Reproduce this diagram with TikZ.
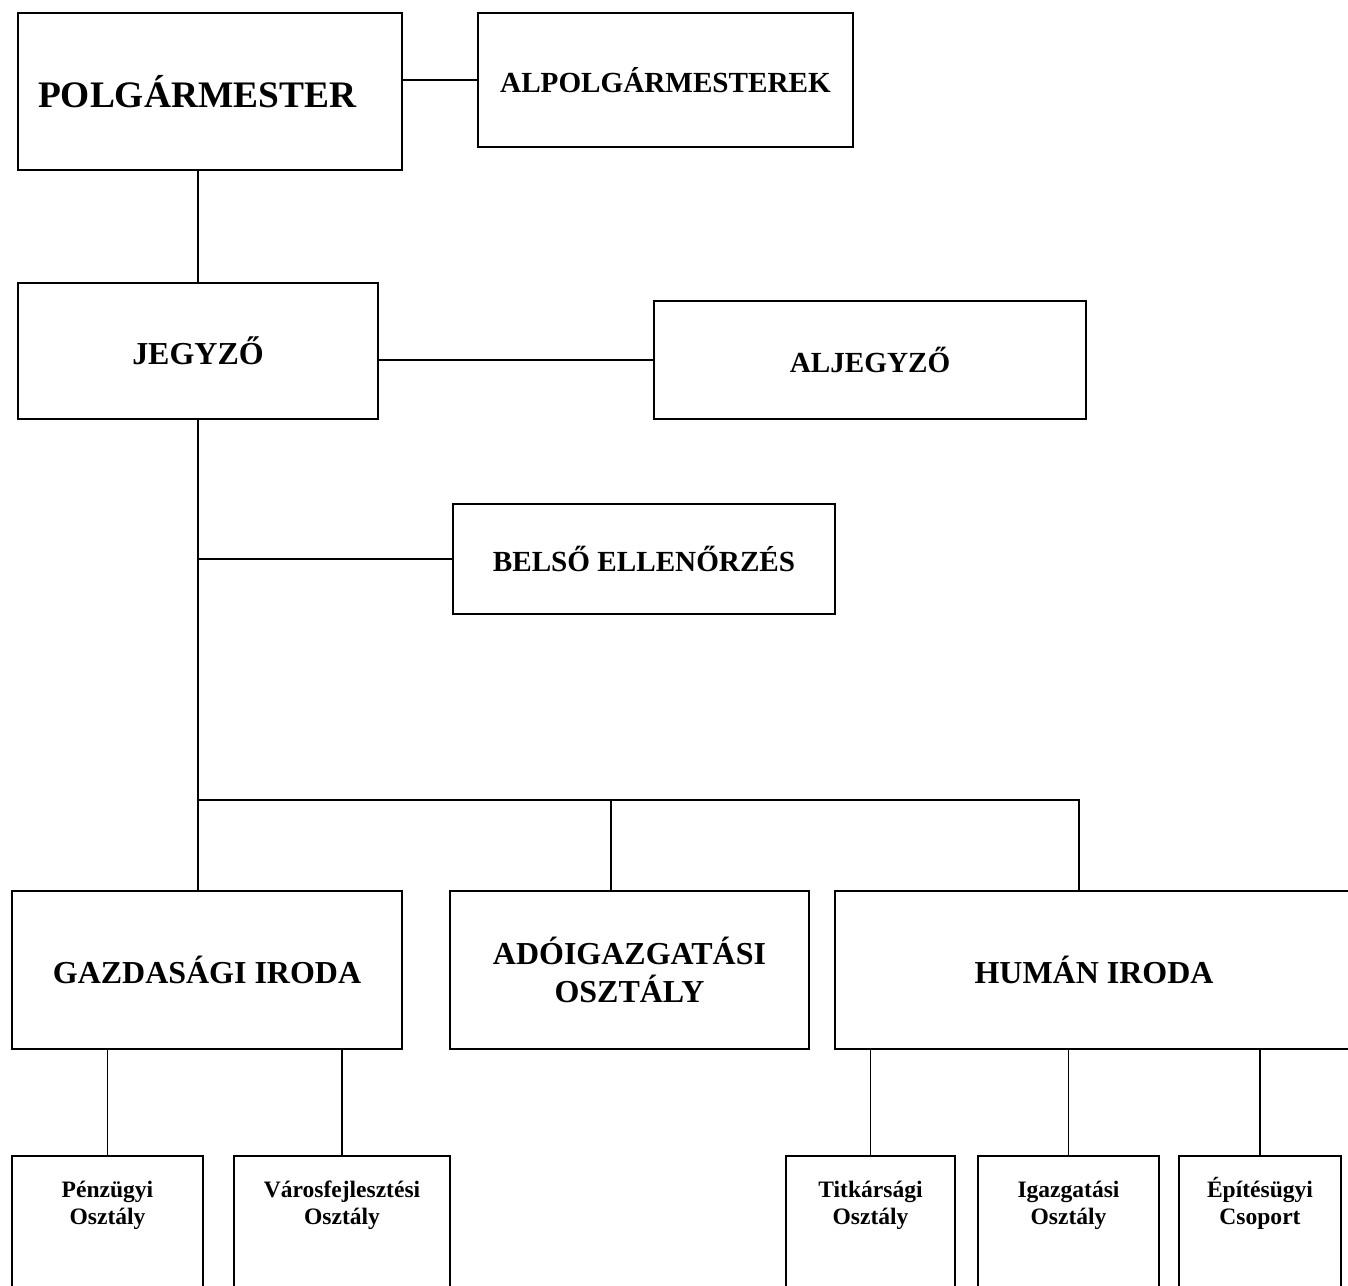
\documentclass[tikz,border=0pt]{standalone}
\usepackage{fontspec}
\setmainfont{Liberation Serif}
\usepackage{tikz}
\tikzstyle{office} = [rectangle, draw=black, line width=1.1pt, align=center, inner sep=0pt, font=\bfseries\fontsize{18.2}{21.5}\selectfont]
\tikzstyle{lesser} = [font=\bfseries\fontsize{16.6}{20}\selectfont]
\tikzstyle{unit} = [rectangle, draw=black, line width=1.1pt, align=center, inner sep=0pt, anchor=north, text height=1.38cm, text depth=1.5cm, font=\bfseries\fontsize{13.4}{15.5}\selectfont]
\tikzstyle{conn} = [line width=1.1pt]

\begin{document}
\begin{tikzpicture}[x=0.02cm, y=-0.02cm]
    \clip (0,0) rectangle (1348,1285);
    \node (polg) [office, font=\bfseries\fontsize{21.3}{25}\selectfont, minimum width=7.68cm, minimum height=3.14cm, text width=6.88cm, align=left] at (210,91.5) {POLGÁRMESTER};
    \node (alpolg) [office, lesser, minimum width=7.5cm, minimum height=2.68cm] at (665.5,80) {ALPOLGÁRMESTEREK};
    \node (jegyzo) [office, minimum width=7.2cm, minimum height=2.72cm] at (198,351) {JEGYZŐ};
    \node (aljegyzo) [office, lesser, minimum width=8.64cm, minimum height=2.36cm] at (870,360) {ALJEGYZŐ};
    \node (belso) [office, lesser, minimum width=7.64cm, minimum height=2.2cm] at (644,559) {BELSŐ ELLENŐRZÉS};
    \node (gazd) [office, minimum width=7.8cm, minimum height=3.16cm] at (207,970) {GAZDASÁGI IRODA};
    \node (ado) [office, minimum width=7.18cm, minimum height=3.16cm] at (629.5,970) {ADÓIGAZGATÁSI\\OSZTÁLY};
    \node (human) [office, minimum width=10.36cm, minimum height=3.16cm] at (1094,970) {HUMÁN IRODA};

    \node (penz) [unit, minimum width=3.82cm] at (107.5,1155) {Pénzügyi\\Osztály};
    \node (varos) [unit, minimum width=4.32cm] at (342,1155) {Városfejlesztési\\Osztály};
    \node (titk) [unit, minimum width=3.38cm] at (870.5,1155) {Titkársági\\Osztály};
    \node (igazg) [unit, minimum width=3.62cm] at (1068.5,1155) {Igazgatási\\Osztály};
    \node (epit) [unit, minimum width=3.24cm] at (1260,1155) {Építésügyi\\Csoport};

    \coordinate (busm) at (611,800);
    \coordinate (busr) at (1079,800);

    \draw [conn] (polg.east |- alpolg.west) -- (alpolg.west);
    \draw [conn] (jegyzo.north) -- (jegyzo.north |- polg.south);
    \draw [conn] (jegyzo.east |- aljegyzo.west) -- (aljegyzo.west);
    \draw [conn] (jegyzo.south) -- (jegyzo.south |- gazd.north);
    \draw [conn] (jegyzo.south |- belso.west) -- (belso.west);
    \draw [conn] (jegyzo.south |- busr) -- (busr) -- (busr |- human.north);
    \draw [conn] (busm) -- (busm |- ado.north);
    \draw [conn] (penz.north) -- (penz.north |- gazd.south);
    \draw [conn] (varos.north) -- (varos.north |- gazd.south);
    \draw [conn] (titk.north) -- (titk.north |- human.south);
    \draw [conn] (igazg.north) -- (igazg.north |- human.south);
    \draw [conn] (epit.north) -- (epit.north |- human.south);
\end{tikzpicture}
\end{document}
